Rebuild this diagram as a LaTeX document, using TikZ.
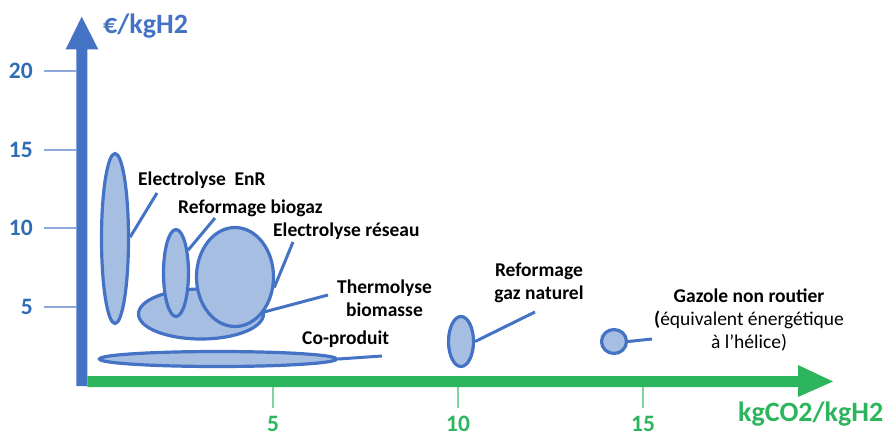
\documentclass[tikz,border=0pt]{standalone}
\usepackage{fontspec}
\setmainfont{Carlito}
\usetikzlibrary{shapes.geometric}
\definecolor{axblue}{HTML}{4472C4}
\definecolor{tickblue}{HTML}{2E6DB4}
\definecolor{ticklineblue}{HTML}{8EAADB}
\definecolor{axgreen}{HTML}{2DB55D}
\definecolor{ticklinegreen}{HTML}{7FD39C}
\definecolor{ellfill}{HTML}{A6BEE1}
\definecolor{ellline}{HTML}{4472C4}
\begin{document}
\begin{tikzpicture}[x=1pt,y=-1pt,
  ell/.style={ellipse, draw=ellline, fill=ellfill, line width=3.2pt, inner sep=0pt},
  lead/.style={draw=ellline, line width=3pt},
  lbl/.style={font=\fontsize{19.5}{23}\selectfont\bfseries, inner sep=0pt, align=center},
  ytick/.style={draw=ticklineblue, line width=1.5pt},
  xtick/.style={draw=ticklinegreen, line width=1.5pt},
  ylab/.style={font=\fontsize{23.5}{23.5}\selectfont\bfseries, text=tickblue, inner sep=0pt},
  xlab/.style={font=\fontsize{23.5}{23.5}\selectfont\bfseries, text=axgreen, inner sep=0pt}]
\useasboundingbox (0,0) rectangle (887,434);
% axes
\fill[axblue] (76.3,386) -- (76.3,49.3) -- (65.7,49.3) -- (81.7,16.7) -- (98.3,49.3) -- (87.3,49.3) -- (87.3,386) -- cycle;
\fill[axgreen] (87.3,376) -- (798,376) -- (798,365) -- (833,381.5) -- (798,397) -- (798,387) -- (87.3,387) -- cycle;
% y ticks
\foreach \v/\yy in {20/71,15/150,10/228,5/307}{
  \draw[ytick] (44,\yy) -- (76,\yy);
  \node[ylab, anchor=east] (yl\v) at (33,\yy) {\v};
}
% x ticks
\foreach \v/\xx in {5/273,10/458,15/643}{
  \draw[xtick] (\xx,387) -- (\xx,408);
  \node[xlab, anchor=base] (xl\v) at (\xx,431) {\v};
}
\node[font=\fontsize{28}{28}\selectfont\bfseries, text=axblue, inner sep=0pt, anchor=base west] (yax) at (103,33) {€/kgH2};
\node[font=\fontsize{28}{28}\selectfont\bfseries, text=axgreen, inner sep=0pt, anchor=base west] (xax) at (738,421) {kgCO2/kgH2};
% ellipses
\node[ell, minimum width=27pt, minimum height=170pt] (enr) at (115,238.5) {};
\node[ell, minimum width=125pt, minimum height=50pt] (thermo) at (201,314) {};
\node[ell, minimum width=25pt, minimum height=87pt] (biogaz) at (176,273) {};
\node[ell, minimum width=77pt, minimum height=99pt] (reseau) at (235,277) {};
\node[ell, minimum width=237pt, minimum height=15pt] (coprod) at (218,359) {};
\node[ell, minimum width=25pt, minimum height=50pt] (gn) at (461,341.5) {};
\node[ell, minimum width=25pt, minimum height=24pt] (gazole) at (614,341.5) {};
% leader ends
\coordinate (cenr) at (157,193);
\coordinate (cbiogaz) at (215,218);
\coordinate (creseau) at (293,242);
\coordinate (cthermo) at (328,295);
\coordinate (ccoprod) at (382,356);
\coordinate (cgn) at (535,312);
\coordinate (cgazole) at (652,339);
\draw[lead] (enr.5) -- (cenr);
\draw[lead] (biogaz.62) -- (cbiogaz);
\draw[lead] (reseau.-15) -- (creseau);
\draw[lead] (thermo.2) -- (cthermo);
\draw[lead] (coprod.east) -- (ccoprod);
\draw[lead] (gn.east) -- (cgn);
\draw[lead] (gazole.east) -- (cgazole);
% labels
\node[lbl, anchor=base west] (tenr) at (138,185) {Electrolyse\ \ EnR};
\node[lbl, anchor=base west] (tbiogaz) at (178,213) {Reformage biogaz};
\node[lbl, anchor=base west] (treseau) at (273,236) {Electrolyse réseau};
\node[lbl, anchor=north] (tthermo) at (384.5,280) {Thermolyse\\biomasse};
\node[lbl, anchor=base west] (tcoprod) at (302,344) {Co-produit};
\node[lbl, anchor=north] (tgn) at (539,263) {Reformage\\gaz naturel};
\node[lbl, anchor=north] (tgazole) at (749,289) {Gazole non routier\\\textbf{(}\mdseries équivalent énergétique\\\mdseries à l’hélice)};
\end{tikzpicture}
\end{document}
